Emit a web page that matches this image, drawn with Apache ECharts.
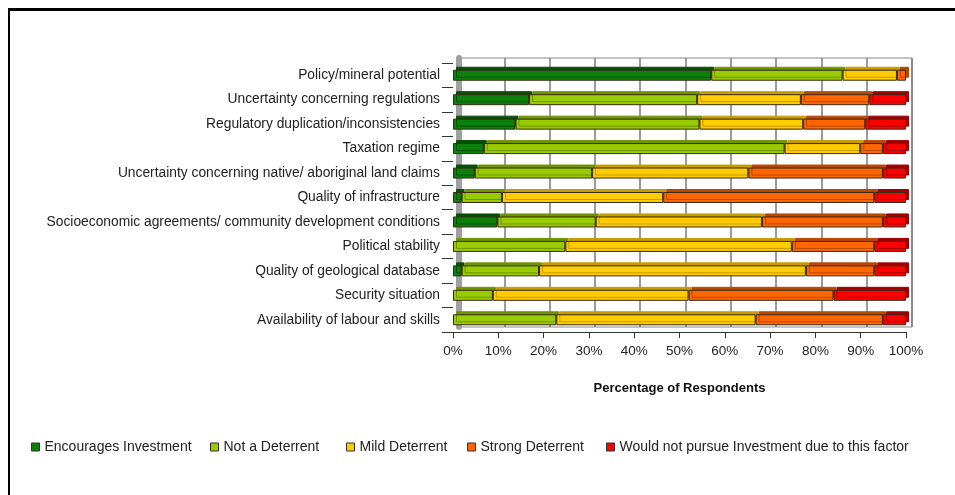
<!DOCTYPE html>
<html>
<head>
<meta charset="utf-8">
<script src="https://cdn.jsdelivr.net/npm/echarts@6/dist/echarts.min.js"></script>
<style>
html,body{margin:0;padding:0;background:#fff;}
#frame{position:absolute;left:8px;top:8px;width:960px;height:500px;border-left:2px solid #000;border-top:3px solid #000;box-sizing:border-box;}
#chart{position:absolute;left:0;top:0;width:955px;height:495px;}
</style>
</head>
<body>
<div id="frame"></div>
<div id="chart"></div>
<script>
const categories = [
  'Policy/mineral potential',
  'Uncertainty concerning regulations',
  'Regulatory duplication/inconsistencies',
  'Taxation regime',
  'Uncertainty concerning native/ aboriginal land claims',
  'Quality of infrastructure',
  'Socioeconomic agreements/ community development conditions',
  'Political stability',
  'Quality of geological database',
  'Security situation',
  'Availability of labour and skills'
];
const encourages = [57.0, 16.8, 13.8, 6.8, 4.8, 1.9, 9.8, 0, 1.9, 0, 0];
const notDeterrent = [29.0, 37.1, 40.6, 66.4, 25.9, 8.9, 21.7, 24.8, 17.1, 8.8, 22.8];
const mildDeterrent = [12.0, 22.9, 22.9, 16.7, 34.5, 35.6, 36.7, 50.0, 58.9, 43.2, 44.0];
const strongDeterrent = [2.0, 15.1, 13.7, 5.0, 29.7, 46.6, 26.7, 18.2, 15.1, 32.0, 28.1];
const wouldNotPursue = [0, 8.1, 9.0, 5.1, 5.1, 7.0, 5.1, 7.0, 7.0, 16.0, 5.1];
const seriesNames = ['Encourages Investment', 'Not a Deterrent', 'Mild Deterrent', 'Strong Deterrent', 'Would not pursue Investment due to this factor'];
const xTicks = [0, 10, 20, 30, 40, 50, 60, 70, 80, 90, 100];

const colors = ['#0b800b', '#99cc00', '#ffcc00', '#ff6600', '#ff0000'];
const sideColors = ['#055005', '#6f9400', '#c79c00', '#b84800', '#a00000'];
const values = [encourages, notDeterrent, mildDeterrent, strongDeterrent, wouldNotPursue];
const legendLefts = [31, 210, 346, 467, 606];

const font = 'Liberation Sans, Arial, sans-serif';
const chart = echarts.init(document.getElementById('chart'), null, {renderer: 'canvas'});

const series = seriesNames.map((name, i) => ({
  name: name,
  type: 'bar',
  stack: 'total',
  xAxisIndex: 1,
  yAxisIndex: 1,
  barWidth: 11,
  data: values[i].map(v => v === 0 ? '-' : v),
  itemStyle: {
    color: colors[i],
    borderColor: '#3a2a1a',
    borderWidth: 1,
    shadowColor: sideColors[i],
    shadowBlur: 0,
    shadowOffsetX: 3,
    shadowOffsetY: -3
  },
  emphasis: {disabled: true},
  animation: false
}));

const legends = seriesNames.map((name, i) => ({
  data: [name],
  left: legendLefts[i],
  top: 440,
  padding: 0,
  itemWidth: 8,
  itemHeight: 8,
  itemGap: 0,
  icon: 'rect',
  selectedMode: false,
  itemStyle: {borderColor: '#333', borderWidth: 1},
  textStyle: {fontFamily: font, fontSize: 14, color: '#222'}
}));

chart.setOption({
  backgroundColor: 'transparent',
  animation: false,
  legend: legends,
  grid: [
    {left: 459, right: 43, top: 58, bottom: 168, show: true, borderColor: '#888', borderWidth: 1, backgroundColor: 'transparent'},
    {left: 453, right: 49, top: 63, bottom: 163}
  ],
  xAxis: [
    {
      gridIndex: 0, type: 'value', min: 0, max: 100, interval: 10,
      axisLine: {show: false}, axisTick: {show: false}, axisLabel: {show: false},
      splitLine: {show: true, lineStyle: {color: '#7a7a7a', width: 1.5}}
    },
    {
      gridIndex: 1, type: 'value', min: 0, max: 100, interval: 10,
      axisLine: {show: true, lineStyle: {color: '#333', width: 1}},
      axisTick: {show: true, length: 6, lineStyle: {color: '#333'}},
      axisLabel: {margin: 12, fontFamily: font, fontSize: 13.5, color: '#222',
        formatter: v => xTicks.indexOf(v) >= 0 ? v + '%' : ''},
      splitLine: {show: false},
      name: 'Percentage of Respondents',
      nameLocation: 'middle',
      nameGap: 50,
      nameTextStyle: {fontFamily: font, fontSize: 13, fontWeight: 'bold', color: '#111'}
    }
  ],
  yAxis: [
    {
      gridIndex: 0, type: 'category', data: categories, inverse: true, offset: 4,
      axisLine: {show: true, lineStyle: {color: '#a0a0a0', width: 6}},
      axisTick: {show: false}, axisLabel: {show: false}, splitLine: {show: false}
    },
    {
      gridIndex: 1, type: 'category', data: categories, inverse: true,
      axisLine: {show: false},
      axisTick: {show: true, length: 11, lineStyle: {color: '#333'}},
      axisLabel: {margin: 13, fontFamily: font, fontSize: 13.8, color: '#222'},
      splitLine: {show: false}
    }
  ],
  series: series
});
</script>
</body>
</html>
